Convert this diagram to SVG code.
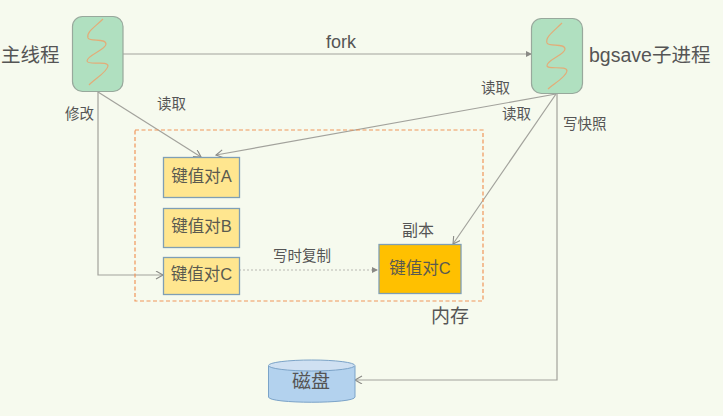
<svg xmlns="http://www.w3.org/2000/svg" width="723" height="416" viewBox="0 0 723 416">
<style>
text{font-family:"Liberation Sans","Noto Sans CJK SC",sans-serif;fill:#555;}
.s{font-size:14.500px}.k{font-size:16.500px;text-anchor:middle;fill:#5a5a50}.t{font-size:19.500px}
.c{fill:none;stroke:#a2a29c;stroke-width:1.200}
.proc{fill:#b0e0c0;stroke:#98a89c;stroke-width:1.200}
.sq{fill:none;stroke:#e3ac78;stroke-width:1.200}
.kv{fill:#ffe68f;stroke:#7f9fb5;stroke-width:1.300}
</style>
<defs>
<marker id="o" markerWidth="10" markerHeight="10" refX="8" refY="4" orient="auto" markerUnits="userSpaceOnUse"><path d="M1 0L8 4L1 8" fill="none" stroke="#8a8a86" stroke-width="1.100"/></marker>
<marker id="f" markerWidth="8" markerHeight="8" refX="6" refY="3" orient="auto" markerUnits="userSpaceOnUse"><path d="M0 0L6 3L0 6Z" fill="#8a8a86"/></marker>
</defs>
<rect width="723" height="416" fill="#f6faee"/>
<g id="connectors">
<path class="c" d="M123 54H532" marker-end="url(#f)"/>
<path class="c" d="M98 92L201 157" marker-end="url(#o)"/>
<path class="c" d="M98 92V275H163" marker-end="url(#o)"/>
<path class="c" d="M556 94L216 155" marker-end="url(#o)"/>
<path class="c" d="M556 94L453 244" marker-end="url(#o)"/>
<path class="c" d="M557 94V380H355" marker-end="url(#o)"/>
<path d="M239 270H378" fill="none" stroke="#b8b8b2" stroke-width="1" stroke-dasharray="2 2" marker-end="url(#f)"/>
</g>
<rect id="memory" x="135" y="130" width="348" height="171" fill="none" stroke="#f0965a" stroke-width="1.200" stroke-dasharray="4 2.500"/>
<g id="main-thread">
<rect class="proc" x="72.500" y="16.500" width="50.500" height="75" rx="10"/>
<path class="sq" d="M103 19C95 27 86 32 88 38C90 42 106 38 106 44C106 50 87 55 87 61C88 66 108 60 108 66C107 72 96 78 89 85"/>
<text class="t" x="1" y="62">主线程</text>
</g>
<g id="bgsave">
<rect class="proc" x="531.500" y="18.500" width="51" height="75" rx="10"/>
<path class="sq" d="M562 23C554 31 545 37 547 43C549 47 565 43 565 49C565 55 546 60 547 66C548 70 567 65 567 71C566 77 555 83 548 89"/>
<text class="t" x="589" y="62">bgsave子进程</text>
</g>
<g id="kv-a"><rect class="kv" x="163.500" y="157.500" width="76" height="40"/><text class="k" x="201.500" y="182">键值对A</text></g>
<g id="kv-b"><rect class="kv" x="163.500" y="208.500" width="76" height="39"/><text class="k" x="201.500" y="232">键值对B</text></g>
<g id="kv-c"><rect class="kv" x="163.500" y="257.500" width="76" height="37"/><text class="k" x="201.500" y="280">键值对C</text></g>
<g id="kv-c-copy"><rect x="379" y="244.500" width="82" height="49" fill="#ffc000" stroke="#7f9fb5" stroke-width="1.300"/><text class="k" x="420" y="274">键值对C</text></g>
<g id="disk">
<path d="M268.500 366V397C268.500 404 355 404 355 397V366" fill="#b3d2ee" stroke="#7ba3c8" stroke-width="1"/>
<ellipse cx="311.700" cy="365.500" rx="43.200" ry="5.500" fill="#cfe0f2" stroke="#7ba3c8" stroke-width="1"/>
<text x="311" y="388" font-size="19" text-anchor="middle">磁盘</text>
</g>
<g id="labels">
<text x="326" y="48" style="font-size:18px">fork</text>
<text class="s" x="157" y="109">读取</text>
<text class="s" x="65" y="119">修改</text>
<text class="s" x="481" y="93">读取</text>
<text class="s" x="502" y="119">读取</text>
<text class="s" x="563" y="129">写快照</text>
<text class="s" x="273" y="261">写时复制</text>
<text x="402" y="236" style="font-size:16px">副本</text>
<text x="431" y="323" style="font-size:19px">内存</text>
</g>
</svg>
